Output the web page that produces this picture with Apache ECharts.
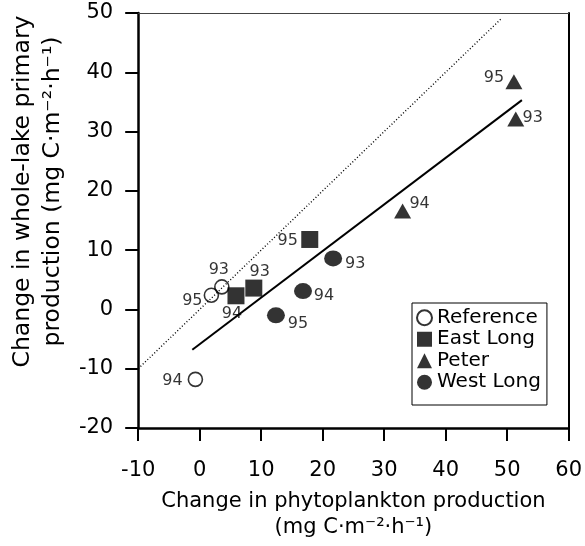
<!DOCTYPE html>
<html>
<head>
<meta charset="utf-8">
<script src="https://cdn.jsdelivr.net/npm/echarts@6/dist/echarts.min.js"></script>
<style>
html,body{margin:0;padding:0;background:#fff;}
#chart{width:585px;height:546px;}
</style>
</head>
<body>
<div id="chart"></div>
<script>
// ---- data ----
const years = ['93', '94', '95'];
const refX = [3.6, -0.7, 1.9];
const refY = [3.8, -11.8, 2.4];
const eastX = [8.8, 5.9, 17.9];
const eastY = [3.6, 2.3, 11.8];
const peterX = [51.4, 33.0, 51.1];
const peterY = [32.1, 16.6, 38.4];
const westX = [21.7, 16.8, 12.4];
const westY = [8.6, 3.1, -1.0];
const fitX = [-1.2, 52.4];
const fitY = [-6.8, 35.3];
const oneX = [-10, 49];
const oneY = [-10, 49];
const xTicks = [-10, 0, 10, 20, 30, 40, 50, 60];
const yTicks = [-20, -10, 0, 10, 20, 30, 40, 50];

// ---- label placement (style, per year 93/94/95) ----
const labelOffsets = {
  ref:   [[-3, -17], [-23, 1], [-19, 6]],
  east:  [[6, -16], [-4, 18], [-22, 1]],
  peter: [[17, -1], [17, -7], [-20, -4]],
  west:  [[22, 5], [21, 5], [22, 8]]
};

const FONT = 'DejaVu Sans';

function pts(xs, ys, key) {
  return xs.map((x, i) => ({
    value: [x, ys[i]],
    name: years[i],
    label: { offset: labelOffsets[key][i] }
  }));
}
function pairs(xs, ys) { return xs.map((x, i) => [x, ys[i]]); }

const pointLabel = {
  show: true,
  position: 'inside',
  formatter: p => p.name,
  color: '#000',
  fontFamily: FONT,
  fontSize: 16
};

const chart = echarts.init(document.getElementById('chart'));
chart.setOption({
  backgroundColor: '#fff',
  animation: false,
  grid: { left: 124, right: 13, top: 13, bottom: 117 },
  xAxis: [{
    type: 'value', min: xTicks[0], max: xTicks[xTicks.length - 1], interval: 10,
    name: 'Change in phytoplankton production\n(mg C·m⁻²·h⁻¹)',
    nameLocation: 'middle', nameGap: 61,
    nameTextStyle: { fontFamily: FONT, fontSize: 21, color: '#000', lineHeight: 26 },
    axisLine: { onZero: false, lineStyle: { color: '#000', width: 2.5 } },
    axisTick: { length: 13, lineStyle: { color: '#000', width: 2 } },
    axisLabel: { margin: 32, fontFamily: FONT, fontSize: 21, color: '#000' },
    splitLine: { show: false }
  }, {
    type: 'value', position: 'top', min: xTicks[0], max: xTicks[xTicks.length - 1], interval: 10,
    axisLine: { onZero: false, lineStyle: { color: '#444', width: 1 } },
    axisTick: { show: false }, axisLabel: { show: false }, splitLine: { show: false }
  }],
  yAxis: [{
    type: 'value', min: yTicks[0], max: yTicks[yTicks.length - 1], interval: 10,
    name: 'Change in whole-lake primary\nproduction (mg C·m⁻²·h⁻¹)',
    nameLocation: 'middle', nameGap: 54,
    nameTextStyle: { fontFamily: FONT, fontSize: 23.5, color: '#000', lineHeight: 30, padding: [0, 0, 0, 58] },
    axisLine: { onZero: false, lineStyle: { color: '#000', width: 2.5 } },
    axisTick: { length: 13, lineStyle: { color: '#000', width: 2 } },
    axisLabel: { margin: 25, fontFamily: FONT, fontSize: 21, color: '#000' },
    splitLine: { show: false }
  }, {
    type: 'value', position: 'right', min: yTicks[0], max: yTicks[yTicks.length - 1], interval: 10,
    axisLine: { onZero: false, lineStyle: { color: '#000', width: 2 } },
    axisTick: { show: false }, axisLabel: { show: false }, splitLine: { show: false }
  }],
  legend: {
    orient: 'vertical',
    left: 412, top: 303,
    padding: [4, 6, 12, 4],
    itemGap: 0,
    itemWidth: 15, itemHeight: 15,
    borderColor: '#000', borderWidth: 1,
    textStyle: { fontFamily: FONT, fontSize: 20, color: '#000', lineHeight: 21.5 },
    data: ['Reference', 'East Long', 'Peter', 'West Long']
  },
  series: [
    {
      name: '1:1', type: 'line', data: pairs(oneX, oneY), symbol: 'none',
      lineStyle: { color: '#000', width: 1.4, type: [1, 2.2] }, silent: true, z: 1
    },
    {
      name: 'fit', type: 'line', data: pairs(fitX, fitY), symbol: 'none',
      lineStyle: { color: '#000', width: 2 }, silent: true, z: 1
    },
    {
      name: 'Reference', type: 'scatter', data: pts(refX, refY, 'ref'),
      symbol: 'circle', symbolSize: 14,
      itemStyle: { color: 'rgba(255,255,255,0)', borderColor: '#000', borderWidth: 1.6 },
      label: pointLabel, z: 3
    },
    {
      name: 'East Long', type: 'scatter', data: pts(eastX, eastY, 'east'),
      symbol: 'rect', symbolSize: 17,
      itemStyle: { color: '#000' }, label: pointLabel, z: 3
    },
    {
      name: 'Peter', type: 'scatter', data: pts(peterX, peterY, 'peter'),
      symbol: 'triangle', symbolSize: [17, 15],
      itemStyle: { color: '#000' }, label: pointLabel, z: 3
    },
    {
      name: 'West Long', type: 'scatter', data: pts(westX, westY, 'west'),
      symbol: 'circle', symbolSize: [18, 16],
      itemStyle: { color: '#000' }, label: pointLabel, z: 3
    }
  ]
});
</script>
</body>
</html>
